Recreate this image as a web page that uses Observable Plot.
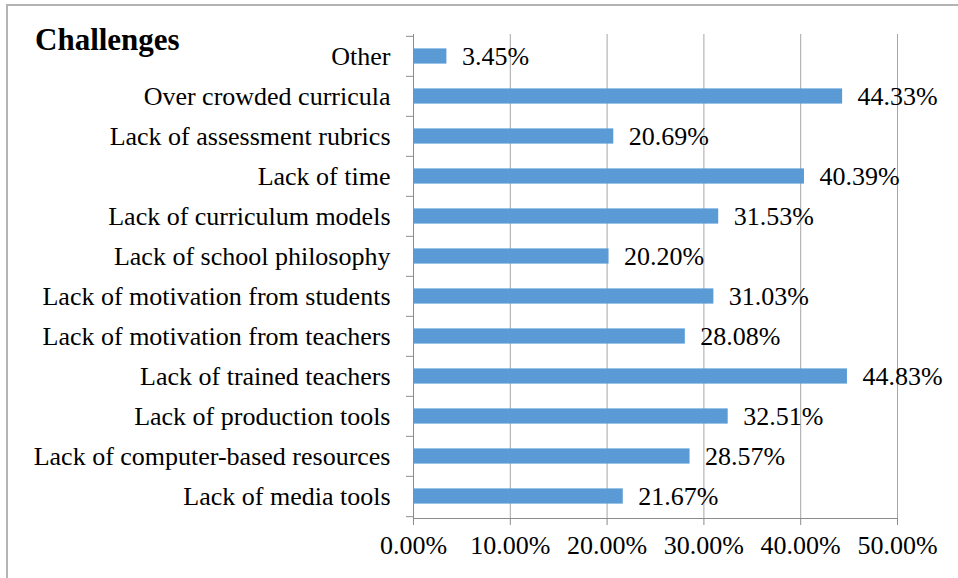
<!DOCTYPE html>
<html><head><meta charset="utf-8">
<script src="https://cdn.jsdelivr.net/npm/d3@7"></script>
<script src="https://cdn.jsdelivr.net/npm/@observablehq/plot@0.6"></script>
<style>
body{margin:0;background:#fff;}
</style></head>
<body>
<div id="chart"></div>
<div style="position:absolute;left:6px;top:4px;width:1000px;height:1000px;border-left:2px solid #b4b4b4;border-top:2px solid #b4b4b4;pointer-events:none;"></div>
<div style="position:absolute;left:35px;top:24px;font-family:'Liberation Serif';font-weight:bold;font-size:31px;line-height:31px;color:#000;">Challenges</div>
<script>
const categories = [
  "Other",
  "Over crowded curricula",
  "Lack of assessment rubrics",
  "Lack of time",
  "Lack of curriculum models",
  "Lack of school philosophy",
  "Lack of motivation from students",
  "Lack of motivation from teachers",
  "Lack of trained teachers",
  "Lack of production tools",
  "Lack of computer-based resources",
  "Lack of media tools"
];
const values = [3.45, 44.33, 20.69, 40.39, 31.53, 20.20, 31.03, 28.08, 44.83, 32.51, 28.57, 21.67];
const xTicks = [0, 0.1, 0.2, 0.3, 0.4, 0.5];

const data = categories.map((c, i) => ({category: c, value: values[i] / 100}));
const W = 958, H = 578, mT = 34, mB = 60, mL = 413, mR = 61;
const bw = (H - mT - mB) / categories.length;
const fmt = d3.format(".2%");
const axisColor = "#8c8c8c";

const chart = Plot.plot({
  width: W, height: H,
  marginLeft: mL, marginRight: mR, marginTop: mT, marginBottom: mB,
  style: {fontSize: "26px", fontFamily: "Liberation Serif"},
  x: {domain: [0, 0.5], label: null},
  y: {domain: categories, padding: 0, label: null},
  marks: [
    Plot.gridX({ticks: xTicks, stroke: "#a6a6a6", strokeOpacity: 1}),
    Plot.barX(data, {x: "value", y: "category", fill: "#5b9bd5", insetTop: 12.4, insetBottom: 12.4}),
    Plot.text(data, {x: "value", y: "category", text: d => fmt(d.value), textAnchor: "start", dx: 15, fontSize: 26, fill: "#000"}),
    Plot.ruleX([0], {stroke: axisColor}),
    Plot.frame({anchor: "bottom", stroke: axisColor}),
    Plot.axisX({ticks: xTicks, tickSize: 7, tickPadding: 10, tickFormat: fmt, stroke: axisColor, label: null}),
    Plot.axisY({tickSize: 0, tickPadding: 23, label: null}),
    Plot.axisY({tickSize: 7, tickFormat: () => "", dy: -bw / 2, stroke: axisColor, label: null}),
    Plot.axisY([categories[categories.length - 1]], {tickSize: 7, tickFormat: () => "", dy: bw / 2, stroke: axisColor, label: null})
  ]
});
document.getElementById("chart").appendChild(chart);
</script>
</body></html>
